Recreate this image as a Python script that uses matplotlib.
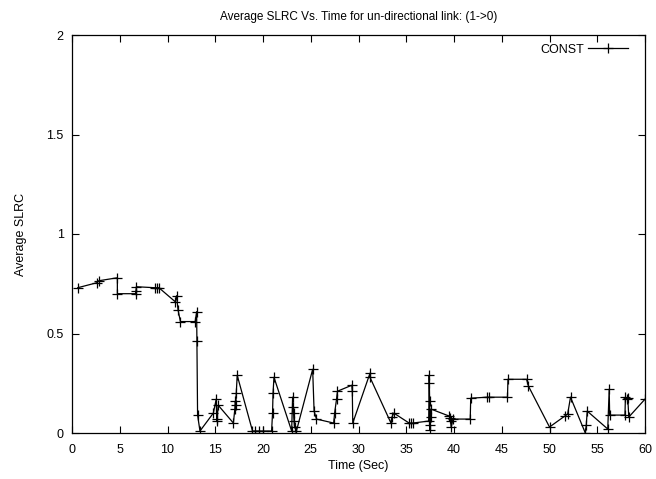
import matplotlib
matplotlib.use("Agg")
import matplotlib.pyplot as plt

# Average SLRC samples for link 1->0
time_sec = [0.6, 2.6, 2.8, 4.75, 4.75, 6.65, 6.7, 6.75, 8.7, 8.9, 9.1,
            10.8, 10.95, 11.1, 11.35, 12.9, 13.05, 13.08, 13.15, 13.4,
            14.8, 15.1, 15.15, 15.2, 15.3, 16.9, 17.05, 17.1, 17.15, 17.2, 17.3,
            18.9, 19.2, 19.6, 20.0, 20.9, 21.0, 21.05, 21.15,
            23.0, 23.1, 23.15, 23.2, 23.25, 23.3, 23.5,
            25.2, 25.35, 25.6, 27.4, 27.5, 27.7, 27.8, 29.3, 29.35, 29.4,
            31.2, 31.2, 33.4, 33.5, 33.7, 35.3, 35.5, 35.7,
            37.35, 37.4, 37.42, 37.45, 37.47, 37.5, 37.55, 37.6,
            39.5, 39.6, 39.65, 39.7, 39.9, 41.7, 41.75, 43.5, 43.7, 45.6, 45.65,
            47.6, 47.8, 50.0, 51.6, 51.9, 52.2, 53.75, 53.85, 53.95,
            56.1, 56.25, 56.3, 57.9, 57.95, 58.1, 58.2, 58.3, 60.0]
avg_slrc = [0.73, 0.755, 0.765, 0.78, 0.70, 0.70, 0.715, 0.735, 0.73, 0.73, 0.73,
            0.66, 0.69, 0.62, 0.56, 0.56, 0.61, 0.46, 0.09, 0.01,
            0.10, 0.17, 0.07, 0.06, 0.14, 0.05, 0.12, 0.16, 0.14, 0.20, 0.29,
            0.01, 0.01, 0.01, 0.01, 0.01, 0.10, 0.20, 0.28,
            0.01, 0.18, 0.13, 0.10, 0.06, 0.03, 0.01,
            0.32, 0.11, 0.07, 0.05, 0.10, 0.17, 0.21, 0.24, 0.21, 0.05,
            0.30, 0.28, 0.05, 0.08, 0.10, 0.05, 0.05, 0.05,
            0.06, 0.29, 0.25, 0.16, 0.04, 0.015, 0.08, 0.12,
            0.085, 0.075, 0.06, 0.03, 0.07, 0.07, 0.175, 0.18, 0.18, 0.18, 0.27,
            0.27, 0.235, 0.03, 0.085, 0.095, 0.18, 0.0, 0.04, 0.11,
            0.02, 0.22, 0.09, 0.09, 0.18, 0.17, 0.175, 0.08, 0.17]

x_ticks = list(range(0, 61, 5))
y_ticks = [0, 0.5, 1, 1.5, 2]
y_tick_labels = ["0", "0.5", "1", "1.5", "2"]

plt.rcParams['font.family'] = ['Liberation Sans', 'DejaVu Sans']
plt.rcParams['font.size'] = 9

fig = plt.figure(figsize=(6.56, 4.79), dpi=100)
ax = fig.add_axes([72 / 656, 46 / 479, 573 / 656, 398 / 479])

ax.plot(time_sec, avg_slrc, color='black', linewidth=0.9,
        marker='+', markersize=6.5, markeredgewidth=0.9, label="CONST")

ax.set_xlim(0, 60)
ax.set_ylim(0, 2)
ax.set_xticks(x_ticks)
ax.set_yticks(y_ticks)
ax.set_yticklabels(y_tick_labels)
ax.tick_params(direction='in', length=5, width=0.8, top=True, right=True, pad=6)
ax.tick_params(axis='x', pad=8)
for s in ax.spines.values():
    s.set_linewidth(0.9)

ax.set_xlabel("Time (Sec)", labelpad=3)
ax.set_ylabel("Average SLRC", labelpad=14)
ax.set_title("Average SLRC Vs. Time for un-directional link: (1->0)",
             fontsize=8.5, pad=11)

# gnuplot-style key: text on the left, sample on the right
leg = ax.legend(loc='upper right', bbox_to_anchor=(1 - 8.5 / 573, 1),
                frameon=False, markerfirst=False, handlelength=3.2,
                borderaxespad=0.3, handletextpad=0.3)

fig.savefig("out.png", dpi=100)
